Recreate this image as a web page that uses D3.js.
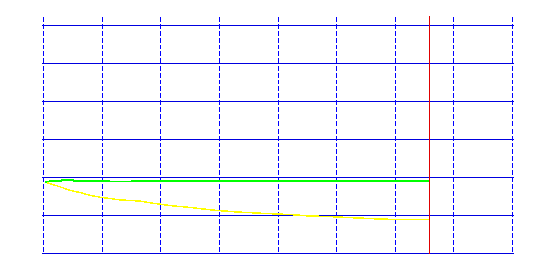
<!DOCTYPE html>
<html>
<head>
<meta charset="utf-8">
<script src="https://cdn.jsdelivr.net/npm/d3@7"></script>
<style>
  body { margin: 0; background: #fff; }
  svg { display: block; background: #fff; }
</style>
</head>
<body>
<svg width="539" height="270"></svg>
<script>
// grid ticks
const xTicks = [0, 1, 2, 3, 4, 5, 6, 7, 8];
const yTicks = [0, 1, 2, 3, 4, 5, 6];
const nowMark = 6.58;

// green series
const greenX = [0.03, 0.12, 0.31, 0.31, 0.51, 0.51, 1.13, 1.13, 1.50, 1.50, 6.58];
const greenY = [1.88, 1.91, 1.91, 1.94, 1.94, 1.91, 1.91, 1.89, 1.89, 1.91, 1.91];

// yellow series
const yellowX = [0.03, 0.29, 0.46, 0.63, 0.80, 0.97, 1.31, 1.65, 1.83, 2.17, 2.51, 2.90, 3.33, 3.70, 4.26, 4.50, 4.90, 5.29, 5.70, 6.09, 6.58];
const yellowY = [1.88, 1.75, 1.66, 1.60, 1.53, 1.48, 1.41, 1.38, 1.33, 1.26, 1.21, 1.14, 1.09, 1.06, 1.02, 0.99, 0.97, 0.94, 0.91, 0.89, 0.89];

const marginLeft = 43;
const marginTop = 16;
const width = 469;
const height = 237;

const svg = d3.select('svg');

const chart = svg.append('g')
    .attr('transform', `translate(${marginLeft + 0.5}, ${marginTop + 0.5})`);

const xScale = d3.scaleLinear()
    .domain([0, 8])
    .range([0, width]);

const yScale = d3.scaleLinear()
    .domain([0, 6])
    .range([height, 9]);

// horizontal grid
chart.append('g')
    .selectAll('line')
    .data(yTicks)
    .enter()
    .append('line')
    .attr('x1', -2)
    .attr('x2', width + 1)
    .attr('y1', (d) => Math.round(yScale(d)))
    .attr('y2', (d) => Math.round(yScale(d)))
    .attr('stroke', '#0000e0')
    .attr('shape-rendering', 'crispEdges');

// vertical dashed grid
chart.append('g')
    .selectAll('line')
    .data(xTicks)
    .enter()
    .append('line')
    .attr('x1', (d) => Math.round(xScale(d)))
    .attr('x2', (d) => Math.round(xScale(d)))
    .attr('y1', 0)
    .attr('y2', height)
    .attr('stroke', '#0000ff')
    .attr('stroke-dasharray', '5,2')
    .attr('shape-rendering', 'crispEdges');

// now marker
chart.append('line')
    .attr('x1', Math.round(xScale(nowMark)))
    .attr('x2', Math.round(xScale(nowMark)))
    .attr('y1', -1)
    .attr('y2', height)
    .attr('stroke', '#e00000')
    .attr('shape-rendering', 'crispEdges');

const line = d3.line()
    .x((d) => xScale(d[0]))
    .y((d) => yScale(d[1]));

chart.append('path')
    .datum(d3.zip(yellowX, yellowY))
    .attr('d', line)
    .attr('fill', 'none')
    .attr('stroke', '#ffff00')
    .attr('stroke-width', 1.5)
    .attr('shape-rendering', 'crispEdges');

chart.append('path')
    .datum(d3.zip(greenX, greenY))
    .attr('d', line)
    .attr('fill', 'none')
    .attr('stroke', '#00ff00')
    .attr('stroke-width', 1.5)
    .attr('shape-rendering', 'crispEdges');
</script>
</body>
</html>
